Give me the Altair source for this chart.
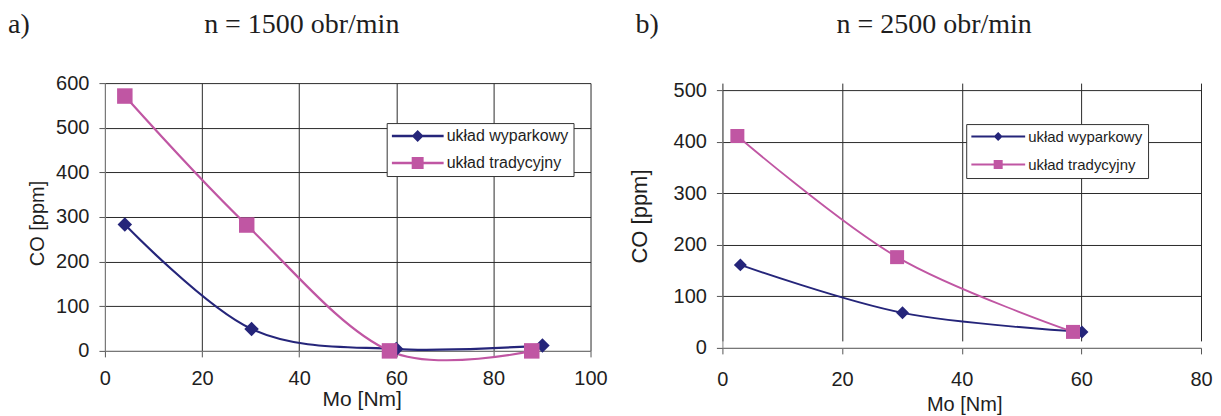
import altair as alt
import pandas as pd

SERIES = ["układ wyparkowy", "układ tradycyjny"]

# panel a)  n = 1500 obr/min
A_MO_WYP = [4.1, 30.2, 60.0, 90.1]
A_CO_WYP = [283, 49, 4, 12]
A_MO_TRA = [4.1, 29.2, 58.6, 87.9]
A_CO_TRA = [571, 282, 0, 0]
A_X_TICKS = [0, 20, 40, 60, 80, 100]
A_Y_TICKS = [0, 100, 200, 300, 400, 500, 600]

# panel b)  n = 2500 obr/min
B_MO_WYP = [3.0, 30.1, 60.1]
B_CO_WYP = [161, 68, 31]
B_MO_TRA = [2.5, 29.2, 58.6]
B_CO_TRA = [411, 176, 31]
B_X_TICKS = [0, 20, 40, 60, 80]
B_Y_TICKS = [0, 100, 200, 300, 400, 500]

LETTERS = ["a)", "b)"]
TITLES = ["n = 1500 obr/min", "n = 2500 obr/min"]
X_TITLE = "Mo [Nm]"
Y_TITLE = "CO [ppm]"

BLUE = "#25257a"
PINK = "#c056a3"
SANS = "Liberation Sans"
SERIF = "Liberation Serif"
TXT = "#1e1e1e"


def legend_paths(m, t):
    bar = f"M-1,-{t}H1V{t}H-1Z"
    dia = f"M0,-{m}L{m},0L0,{m}L-{m},0Z"
    sq = f"M-{m},-{m}H{m}V{m}H-{m}Z"
    return [bar + dia, bar + sq]


def panel(mo_w, co_w, mo_t, co_t, xt, yt, letter, title, p):
    df = pd.DataFrame({
        "Mo": mo_w + mo_t,
        "CO": co_w + co_t,
        "seria": [SERIES[0]] * len(mo_w) + [SERIES[1]] * len(mo_t),
    })
    xs = alt.Scale(domain=[xt[0], xt[-1]], nice=False, zero=False)
    ys = alt.Scale(domain=[yt[0], yt[-1]], nice=False, range=[p["h"], p["top"]])
    xenc = alt.X("Mo:Q", scale=xs, axis=alt.Axis(
        values=xt, title=X_TITLE, grid=True, labelPadding=p["xlp"], labelFlush=False,
        titleX=p["xtx"], titleY=p["xty"], titleBaseline="alphabetic",
        titleAlign="center", titleFontSize=p["xtfs"]))
    yenc = alt.Y("CO:Q", scale=ys, axis=alt.Axis(
        values=yt, title=Y_TITLE, grid=True, labelPadding=10, labelFlush=False,
        titleAngle=270, titleX=p["ytx"], titleY=p["yty"],
        titleAlign="center", titleBaseline="alphabetic",
        titleFontSize=p["ytfs"]))
    base = alt.Chart(df).encode(x=xenc, y=yenc)

    layers = []
    for s, col in zip(SERIES, [BLUE, PINK]):
        layers.append(base.transform_filter(alt.datum.seria == s).mark_line(
            interpolate="cardinal", color=col, strokeWidth=p["lw"]))
    layers.append(base.transform_filter(alt.datum.seria == SERIES[0]).mark_point(
        shape="diamond", filled=True, color=BLUE, opacity=1, size=p["dsize"]))
    layers.append(base.transform_filter(alt.datum.seria == SERIES[1]).mark_point(
        shape="square", filled=True, color=PINK, opacity=1, size=p["ssize"]))

    leg = dict(title=None, orient="none", legendX=p["lx"], legendY=p["ly"],
               direction="vertical", fillColor="white", strokeColor="#333333",
               padding=5, symbolSize=p["symsize"], symbolOpacity=1,
               symbolStrokeWidth=0, labelFont=SANS, labelFontSize=p["lfs"],
               labelColor=TXT, labelOffset=3, rowPadding=p["rp"],
               clipHeight=p["lfs"], symbolOffset=0, cornerRadius=0)
    layers.append(base.mark_point(filled=True, opacity=0).encode(
        color=alt.Color("seria:N", scale=alt.Scale(domain=SERIES, range=[BLUE, PINK]),
                        legend=alt.Legend(**leg)),
        shape=alt.Shape("seria:N", scale=alt.Scale(domain=SERIES, range=p["paths"]),
                        legend=alt.Legend(**leg)),
    ))

    tdf = pd.DataFrame({"t": [title]})
    ldf = pd.DataFrame({"t": [letter]})
    layers.append(alt.Chart(tdf).mark_text(
        font=SERIF, fontSize=28, align="center", baseline="alphabetic", color=TXT
    ).encode(x=alt.value(p["tx"]), y=alt.value(p["ty"]), text="t:N"))
    layers.append(alt.Chart(ldf).mark_text(
        font=SERIF, fontSize=28, align="left", baseline="alphabetic", color=TXT
    ).encode(x=alt.value(p["ax"]), y=alt.value(p["ty"]), text="t:N"))

    return alt.layer(*layers).properties(width=p["w"], height=p["h"])


pa = dict(w=486, h=268, top=0, xlp=12, xtx=257, xty=55, xtfs=21, ytx=-61, yty=140, ytfs=20,
          lw=2.2, dsize=210, ssize=240, lx=282, ly=40, symsize=52 * 52, lfs=16, rp=11,
          paths=legend_paths(0.23, 0.048), tx=197, ty=-50, ax=-97)
pb = dict(w=479, h=265, top=7, xlp=16, xtx=242, xty=63, xtfs=20, ytx=-76, yty=133, ytfs=22,
          lw=1.8, dsize=169, ssize=196, lx=244, ly=41, symsize=54 * 54, lfs=15, rp=12,
          paths=legend_paths(0.167, 0.035), tx=212, ty=-50, ax=-87)

left = panel(A_MO_WYP, A_CO_WYP, A_MO_TRA, A_CO_TRA, A_X_TICKS, A_Y_TICKS,
             LETTERS[0], TITLES[0], pa)
right = panel(B_MO_WYP, B_CO_WYP, B_MO_TRA, B_CO_TRA, B_X_TICKS, B_Y_TICKS,
              LETTERS[1], TITLES[1], pb)

chart = alt.hconcat(left, right, spacing=21).resolve_scale(
    color="independent", shape="independent"
).resolve_legend(
    color="independent", shape="independent"
).properties(
    padding={"left": 0, "top": 3, "right": 0, "bottom": 0}
).configure_view(stroke=None).configure_axis(
    domainColor="#808080", gridColor="#2a2a2a", gridWidth=1, tickColor="#555555",
    tickSize=6, labelFont=SANS, labelFontSize=20, labelColor=TXT,
    titleFont=SANS, titleFontWeight="normal", titleColor=TXT,
)

chart.save("out.html", embed_options={"renderer": "svg", "actions": False})
